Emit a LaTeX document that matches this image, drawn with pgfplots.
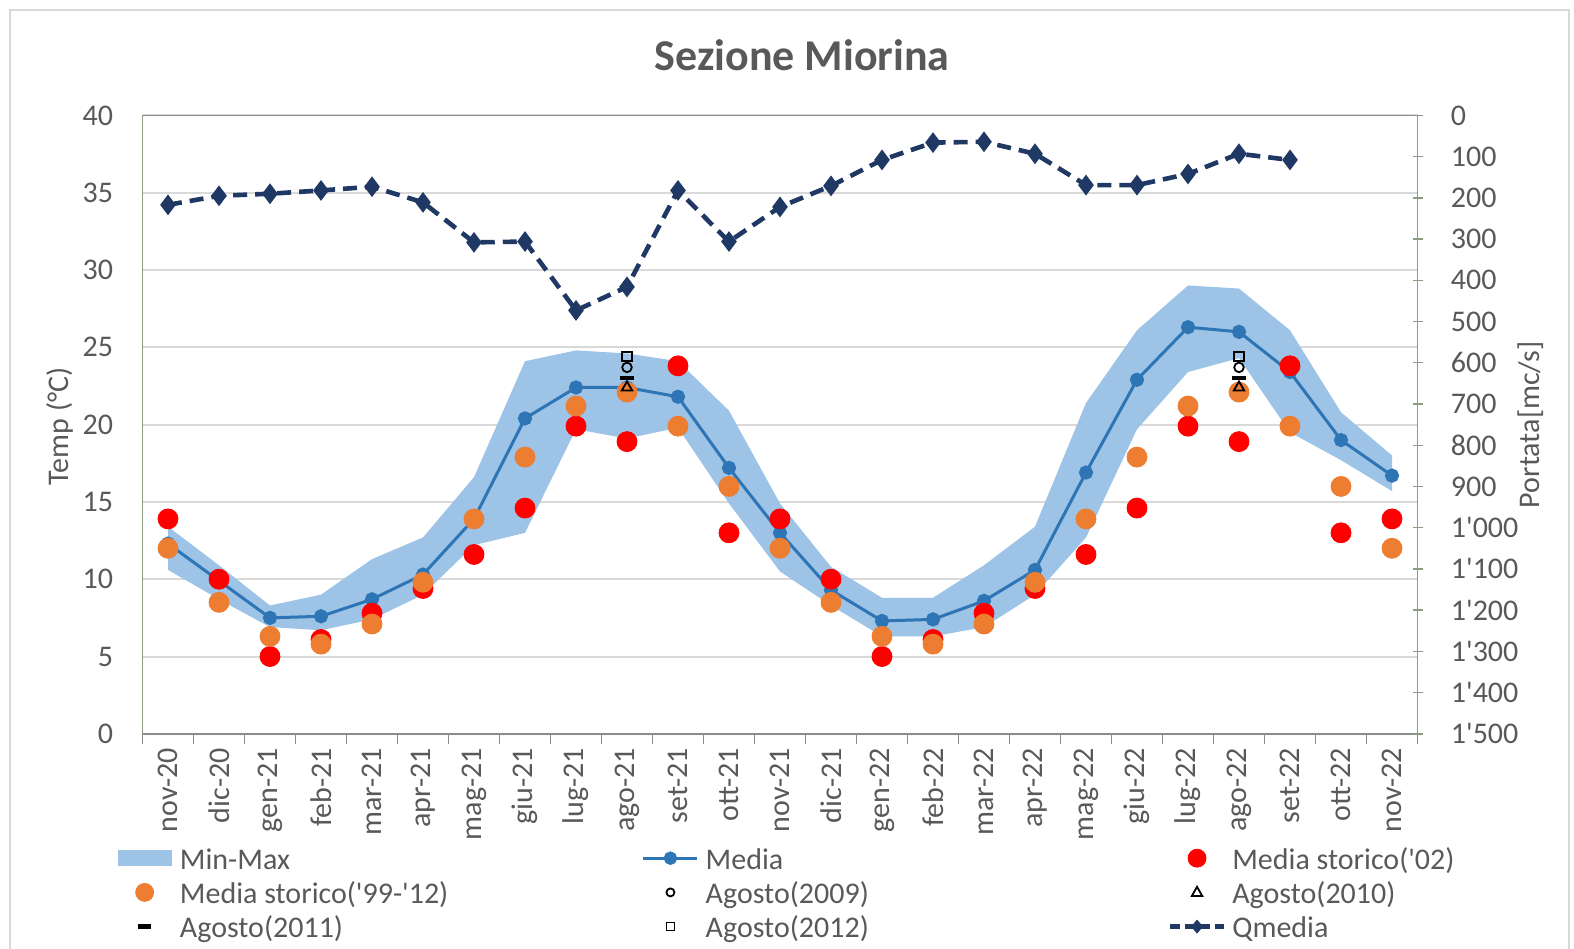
\documentclass[border=0pt]{standalone}
\usepackage{pgfplots}
\usepackage{pgfplotstable}
\pgfplotsset{compat=1.18}
\usepgfplotslibrary{fillbetween}
\usepackage{fontspec}
\setmainfont{Carlito}

\definecolor{band}{HTML}{9DC3E6}
\definecolor{media}{HTML}{2E75B6}
\definecolor{rosso}{HTML}{FF0000}
\definecolor{arancio}{HTML}{ED7D31}
\definecolor{qcol}{HTML}{203864}
\definecolor{txt}{HTML}{595959}
\definecolor{gridc}{HTML}{D9D9D9}
\definecolor{axc}{HTML}{8C9C84}
\definecolor{axx}{HTML}{8C8C8C}

\newcommand\lstrut{\rule[-5.4pt]{0pt}{18pt}}
\newcommand\lbox{\path[draw=none,fill=none] (0pt,-6pt) rectangle (31.15pt,6pt);}

\pgfplotstableread{
x up lo media r o
0 13.4 10.6 12.3 13.9 12.0
1 10.9 8.7 9.9 10.0 8.5
2 8.3 6.9 7.5 5.0 6.3
3 9.0 6.7 7.6 6.1 5.8
4 11.3 7.4 8.7 7.8 7.1
5 12.7 9.0 10.3 9.4 9.8
6 16.6 12.2 13.9 11.6 13.9
7 24.1 13.0 20.4 14.6 17.9
8 24.8 19.7 22.4 19.9 21.2
9 24.6 19.1 22.4 18.9 22.1
10 24.1 19.8 21.8 23.8 19.9
11 20.9 14.9 17.2 13.0 16.0
12 14.9 10.5 13.0 13.9 12.0
13 10.8 8.3 9.3 10.0 8.5
14 8.8 6.3 7.3 5.0 6.3
15 8.8 6.3 7.4 6.1 5.8
16 10.9 6.9 8.6 7.8 7.1
17 13.4 9.0 10.6 9.4 9.8
18 21.4 12.7 16.9 11.6 13.9
19 26.1 19.7 22.9 14.6 17.9
20 29.0 23.4 26.3 19.9 21.2
21 28.8 24.3 26.0 18.9 22.1
22 26.1 19.5 23.4 23.8 19.9
23 20.8 17.7 19.0 13.0 16.0
24 18.0 15.7 16.7 13.9 12.0
}\tdata

\pgfplotstableread{
x q
0 217
1 195
2 190
3 182
4 173
5 211
6 308
7 306
8 473
9 416
10 182
11 306
12 222
13 171
14 108
15 66
16 64
17 93
18 169
19 169
20 142
21 93
22 108
}\qdata

\pgfplotsset{/pgf/number format/assume math mode=true}

\begin{document}
\begin{tikzpicture}
\draw[gridc, line width=1pt] (-66.25pt,-130pt) rectangle (713.25pt,361.9pt);

\begin{axis}[
  at={(0,0)}, anchor=south west,
  scale only axis, width=637.5pt, height=309.2pt,
  xmin=-0.5, xmax=24.5, ymin=0, ymax=40,
  xtick={0,...,24},
  xticklabels={nov-20,dic-20,gen-21,feb-21,mar-21,apr-21,mag-21,giu-21,lug-21,ago-21,set-21,ott-21,nov-21,dic-21,gen-22,feb-22,mar-22,apr-22,mag-22,giu-22,lug-22,ago-22,set-22,ott-22,nov-22},
  minor xtick={-0.5,0.5,...,24.5},
  xtick pos=left, ytick pos=left,
  ytick={0,5,...,40},
  major tick length=0pt, minor tick length=5pt, tick align=outside,
  minor tick style={axx, line width=0.7pt},
  separate axis lines,
  x axis line style={axx, line width=0.8pt},
  y axis line style={axc, line width=0.8pt},
  ymajorgrids, grid style={gridc, line width=1pt},
  tick label style={text=txt, font=\fontsize{15}{18}\selectfont},
  x tick label style={yshift=-7pt, rotate=90, anchor=east, inner sep=0pt},
  y tick label style={anchor=east, inner sep=0pt, xshift=-14.5pt},
  ylabel={Temp (°C)},
  ylabel style={at={(axis description cs:-0.0645,0.497)}, anchor=center, text=txt, font=\fontsize{15}{18}\selectfont},
  title={Sezione Miorina},
  title style={at={(axis description cs:0.5173,1)}, anchor=center, yshift=24.1pt, text=txt, font=\fontsize{22}{26}\selectfont\bfseries},
  legend cell align=left,
  legend columns=3,
  legend style={at={(axis description cs:-0.0198,-0.1777)}, anchor=north west, draw=none, fill=none, inner sep=0pt, column sep=0pt, row sep=3pt, text=txt, font=\fontsize{15}{18}\selectfont, nodes={inner sep=0pt}},
]
\addplot[draw=none, name path=up, forget plot] table[x=x,y=up]{\tdata};
\addplot[draw=none, name path=lo, forget plot] table[x=x,y=lo]{\tdata};
\addplot[fill=band, draw=none,
  legend image code/.code={\lbox \fill[band] (0pt,-4pt) rectangle (27pt,4pt);}]
  fill between[of=up and lo];
\addlegendentry{\makebox[231pt][l]{\lstrut Min-Max}}

\addplot[media, line width=1.5pt, mark=*, mark size=2.8pt,
  legend image code/.code={\lbox \draw[media, line width=1.5pt] (0pt,0pt) -- (27pt,0pt); \fill[media] (13.5pt,0pt) circle (2.6pt);}]
  table[x=x,y=media]{\tdata};
\addlegendentry{\makebox[231pt][l]{\lstrut Media}}

\addplot[only marks, mark=*, mark size=5pt, rosso, mark options={draw=none, fill=rosso},
  legend image code/.code={\lbox \fill[rosso] (13.5pt,0pt) circle (4.5pt);}]
  table[x=x,y=r]{\tdata};
\addlegendentry{\makebox[231pt][l]{\lstrut Media storico(\textquotesingle 02)}}

\addplot[only marks, mark=*, mark size=5pt, arancio, mark options={draw=none, fill=arancio},
  legend image code/.code={\lbox \fill[arancio] (13.5pt,0pt) circle (4.5pt);}]
  table[x=x,y=o]{\tdata};
\addlegendentry{\makebox[231pt][l]{\lstrut Media storico(\textquotesingle 99-\textquotesingle 12)}}

\addplot[only marks, mark=o, mark size=2.4pt, black, mark options={line width=0.9pt},
  legend image code/.code={\lbox \draw[black, line width=0.9pt] (13.5pt,0pt) circle (2pt);}]
  coordinates {(9,23.7) (21,23.7)};
\addlegendentry{\makebox[231pt][l]{\lstrut Agosto(2009)}}

\addplot[only marks, mark=triangle, mark size=3pt, black, mark options={line width=0.9pt},
  legend image code/.code={\lbox \draw[black, line width=0.9pt] (13.5pt,2.8pt) -- (10.9pt,-1.8pt) -- (16.1pt,-1.8pt) -- cycle;}]
  coordinates {(9,22.4) (21,22.4)};
\addlegendentry{\makebox[231pt][l]{\lstrut Agosto(2010)}}

\addplot[only marks, mark=-, mark size=3.5pt, black, mark options={line width=2.2pt},
  legend image code/.code={\lbox \fill[black] (10.5pt,-1pt) rectangle (16.5pt,1pt);}]
  coordinates {(9,23.0) (21,23.0)};
\addlegendentry{\makebox[231pt][l]{\lstrut Agosto(2011)}}

\addplot[only marks, mark=square, mark size=2.4pt, black, mark options={line width=0.9pt},
  legend image code/.code={\lbox \draw[black, line width=0.9pt] (11.5pt,-2pt) rectangle (15.5pt,2pt);}]
  coordinates {(9,24.4) (21,24.4)};
\addlegendentry{\makebox[231pt][l]{\lstrut Agosto(2012)}}

\addlegendimage{legend image code/.code={\lbox \draw[qcol, line width=2.3pt, dash pattern=on 5pt off 2.5pt] (0pt,0pt) -- (27pt,0pt); \fill[qcol] (13.5pt,3.2pt) -- (16.2pt,0pt) -- (13.5pt,-3.2pt) -- (10.8pt,0pt) -- cycle;}}
\addlegendentry{\makebox[231pt][l]{\lstrut Qmedia}}
\end{axis}

\begin{axis}[
  at={(0,0)}, anchor=south west,
  scale only axis, width=637.5pt, height=309.2pt,
  xmin=-0.5, xmax=24.5, ymin=0, ymax=1500, y dir=reverse,
  axis x line=none, axis y line*=right,
  y axis line style={axc, line width=0.8pt},
  xtick=\empty,
  ytick={0,100,200,300,400,500,600,700,800,900,1000,1100,1200,1300,1400,1500},
  /pgf/number format/1000 sep={\textquotesingle},
  major tick length=5pt, tick align=center,
  major tick style={axc, line width=0.7pt},
  tick label style={text=txt, font=\fontsize{15}{18}\selectfont},
  y tick label style={anchor=west, inner sep=0pt, xshift=14pt},
  ylabel={Portata[mc/s]},
  ylabel style={at={(axis description cs:1.0889,0.5)}, anchor=center, text=txt, font=\fontsize{15}{18}\selectfont},
]
\addplot[qcol, line width=2.3pt, dash pattern=on 7pt off 4pt, mark=diamond*, mark size=3.3pt, mark options={solid}]
  table[x=x,y=q]{\qdata};
\end{axis}
\pgfresetboundingbox
\useasboundingbox (-71.25pt,-107.1pt) rectangle (715.75pt,366.9pt);
\end{tikzpicture}
\end{document}
